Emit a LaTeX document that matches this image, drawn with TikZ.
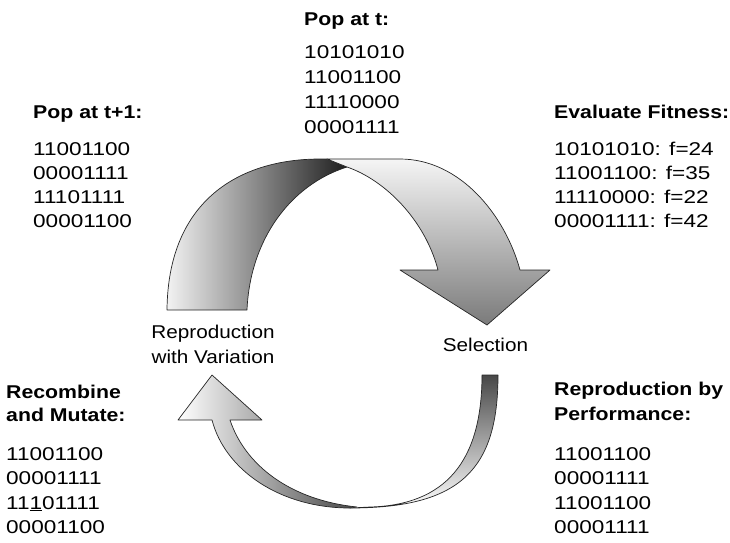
\documentclass[tikz,border=0pt]{standalone}
\usepackage{fontspec}
\setmainfont{Liberation Sans}[FakeStretch=1.22,BoldFeatures={FakeStretch=1.15}]
\newfontfamily\lblfont{Liberation Sans}[FakeStretch=1.12]
\begin{document}
\begin{tikzpicture}[x=1pt,y=-1pt,
  txt/.style={anchor=base west,inner sep=0pt,font=\fontsize{18.5}{22}\selectfont},
  hd/.style={anchor=base west,inner sep=0pt,font=\fontsize{18.5}{22}\selectfont\bfseries},
  lbl/.style={anchor=base,inner sep=0pt,font=\fontsize{18.5}{22}\selectfont\lblfont},
  band/.style={draw=black!85,line width=0.7pt,line join=round}]
\useasboundingbox (0,0) rectangle (730,542);

% ---- top arrow: back side (left part)
\shade[band,left color=black!5,middle color=black!45,right color=black!88]
  (167,310) .. controls (168,200) and (240,159) .. (320,159) -- (327,159)
  -- (347,167) .. controls (290,185) and (250,240) .. (247,310) -- cycle;
% ---- top arrow: front side with head
\shade[band,top color=black!4,bottom color=black!52]
  (327,159) -- (400,159) .. controls (460,159) and (505,215) .. (520,270)
  -- (550,270) -- (487,325) -- (400,270) -- (438,270)
  .. controls (425,220) and (385,180) .. (347,167) -- cycle;

% ---- bottom arrow: left part with head
\shade[band,left color=white,right color=black!72]
  (212,420) -- (178,420) -- (212,375) -- (262,420) -- (230,420)
  .. controls (245,465) and (290,500) .. (357,507) -- (350,508)
  .. controls (280,508) and (225,470) .. (212,420) -- cycle;
% ---- bottom arrow: right part
\shade[band,top color=black!72,bottom color=white]
  (482,375) -- (498,375) .. controls (498,470) and (460,508) .. (350,508)
  -- (370,507) .. controls (445,505) and (482,462) .. (482,375) -- cycle;

% ---- top centre
\node[hd] (popt) at (304,25) {Pop at t:};
\foreach \t [count=\i] in {10101010,11001100,11110000,00001111}
  \node[txt] (pt\i) at (304,33+25*\i) {\t};

% ---- top left
\node[hd] (popt1) at (33,118) {Pop at t+1:};
\foreach \t [count=\i] in {11001100,00001111,11101111,00001100}
  \node[txt] (ptn\i) at (33,131+24*\i) {\t};

% ---- top right
\node[hd] (evf) at (554,118) {Evaluate Fitness:};
\foreach \t [count=\i] in {10101010: f=24,11001100: f=35,11110000: f=22,00001111: f=42}
  \node[txt] (ev\i) at (554,131+24*\i) {\t};

% ---- bottom left
\node[hd] (rec1) at (6,398) {Recombine};
\node[hd] (rec2) at (6,421) {and Mutate:};
\node[txt] (rm1) at (6,460) {11001100};
\node[txt] (rm2) at (6,484.5) {00001111};
\node[txt] (rm3) at (6,509) {11\underline{1}01111};
\node[txt] (rm4) at (6,533.5) {00001100};

% ---- bottom right
\node[hd] (rp1) at (554,395) {Reproduction by};
\node[hd] (rp2) at (554,420) {Performance:};
\foreach \t [count=\i] in {11001100,00001111,11001100,00001111}
  \node[txt] (rp\i x) at (554,435.5+24.5*\i) {\t};

% ---- arrow labels
\node[lbl] (rv1) at (213,338) {Reproduction};
\node[lbl] (rv2) at (213,363) {with Variation};
\node[lbl] (sel) at (485.5,351) {Selection};
\end{tikzpicture}
\end{document}
